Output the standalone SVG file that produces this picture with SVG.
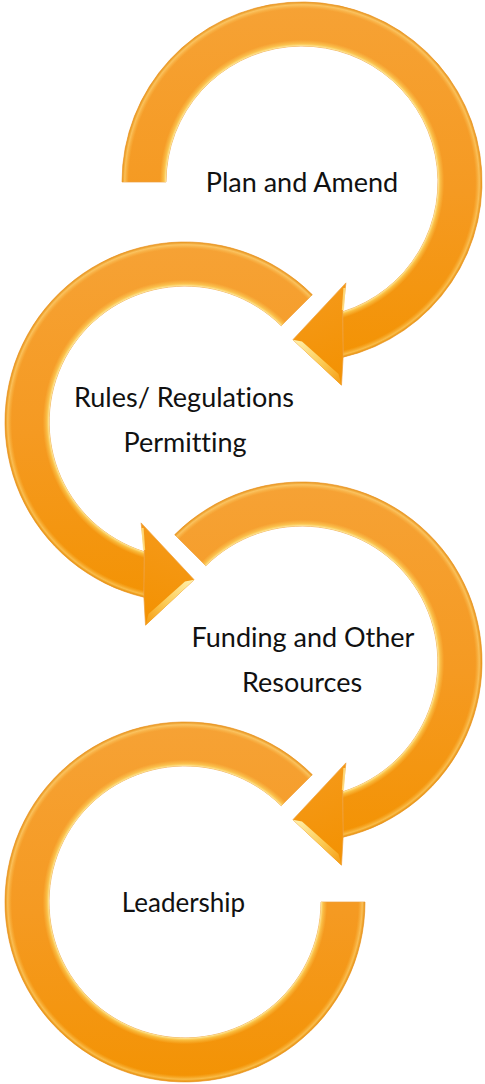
<svg xmlns="http://www.w3.org/2000/svg" width="485" height="1084" viewBox="0 0 485 1084">
  <style>
    .body { fill: url(#bodyGrad); stroke: #EE9F3C; stroke-width: 0.7; }
    .hl { fill: url(#ringHl); }
    .head { fill: url(#headGrad); stroke: #EE9F3C; stroke-width: 0.7; }
    .bevel { fill: url(#bevelGrad); }
    .ridge { fill: none; stroke: #FFE58C; stroke-width: 2.2; stroke-opacity: 0.8; }
    .label { font-family: Lato, "Open Sans", "Liberation Sans", sans-serif; font-size: 27px; fill: #111; text-anchor: middle; font-variant-ligatures: none; font-feature-settings: "liga" 0, "clig" 0; }
    .lead { font-size: 26px; }
  </style>
  <defs>
    <linearGradient id="bodyGrad" gradientUnits="userSpaceOnUse" x1="0" y1="-180" x2="0" y2="200">
      <stop offset="0" stop-color="#F6A235"/>
      <stop offset="0.5" stop-color="#F59A22"/>
      <stop offset="1" stop-color="#F39200"/>
    </linearGradient>
    <linearGradient id="headGrad" gradientUnits="userSpaceOnUse" x1="0" y1="100" x2="40" y2="205">
      <stop offset="0" stop-color="#F59A1C"/>
      <stop offset="1" stop-color="#F39100"/>
    </linearGradient>
    <linearGradient id="bevelGrad" gradientUnits="userSpaceOnUse" x1="-9" y1="158" x2="40" y2="203">
      <stop offset="0" stop-color="#FFF2B0"/>
      <stop offset="0.55" stop-color="#FCCB55"/>
      <stop offset="1" stop-color="#F49A10"/>
    </linearGradient>
    <radialGradient id="ringHl" gradientUnits="userSpaceOnUse" cx="0" cy="0" r="180">
      <stop offset="0.755" stop-color="#FFF4B0" stop-opacity="0.9"/>
      <stop offset="0.768" stop-color="#FFDD66" stop-opacity="0.55"/>
      <stop offset="0.79" stop-color="#FFD060" stop-opacity="0"/>
      <stop offset="0.962" stop-color="#FFD060" stop-opacity="0"/>
      <stop offset="0.985" stop-color="#FFE48C" stop-opacity="0.5"/>
      <stop offset="1" stop-color="#D98300" stop-opacity="0.5"/>
    </radialGradient>
    <path id="shaftA" d="M-180,0 A180,180 0 1 1 41.1,175.2 L40.7,129.8 A136,136 0 1 0 -136,0 Z"/>
    <path id="shaftB" d="M-127.3,-127.3 A180,180 0 1 1 41.1,175.2 L40.7,129.8 A136,136 0 1 0 -96.2,-96.2 Z"/>
    <path id="shaftC" d="M127.3,-127.3 A180,180 0 1 0 180,0 L136,0 A136,136 0 1 1 96.2,-96.2 Z"/>
    <path id="head" d="M41.1,175.2 L39.5,203.2 L-9.1,157.7 L43.9,100.9 L40.7,129.8 Z"/>
    <g id="headFull">
      <use href="#head" class="head"/>
      <path class="bevel" d="M-9.1,157.7 L39.5,203.2 L36.5,192 L0,159.5 Z"/>
      <path class="ridge" d="M42.5,106 L40.9,128"/>
    </g>
  </defs>

  <g id="connectors"/>

  <g id="node-plan-and-amend">
    <g transform="translate(302,182)">
      <use href="#shaftA" class="body"/>
      <use href="#shaftA" class="hl"/>
      <use href="#headFull"/>
    </g>
    <text class="label" x="302" y="191.5">Plan and Amend</text>
  </g>

  <g id="node-rules-regulations">
    <g transform="translate(185,422) scale(-1,1)">
      <use href="#shaftB" class="body"/>
      <use href="#shaftB" class="hl"/>
      <use href="#headFull"/>
    </g>
    <text class="label" x="184" y="406.5">Rules/ Regulations</text>
    <text class="label" x="185" y="451.5">Permitting</text>
  </g>

  <g id="node-funding">
    <g transform="translate(302,662)">
      <use href="#shaftB" class="body"/>
      <use href="#shaftB" class="hl"/>
      <use href="#headFull"/>
    </g>
    <text class="label" x="303" y="646.5">Funding and Other</text>
    <text class="label" x="302" y="691.5">Resources</text>
  </g>

  <g id="node-leadership">
    <g transform="translate(185,902)">
      <use href="#shaftC" class="body"/>
      <use href="#shaftC" class="hl"/>
    </g>
    <text class="label lead" x="183.5" y="911.5">Leadership</text>
  </g>
</svg>
